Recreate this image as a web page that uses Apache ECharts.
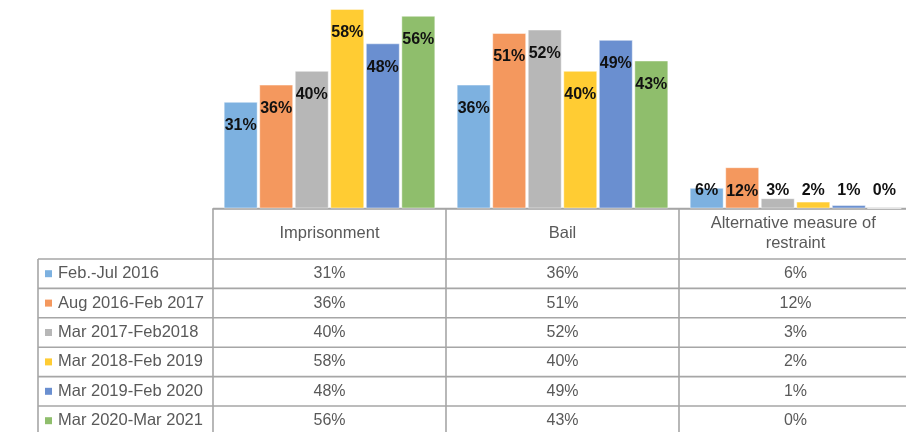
<!DOCTYPE html>
<html>
<head>
<meta charset="utf-8">
<script src="https://cdn.jsdelivr.net/npm/echarts@6/dist/echarts.min.js"></script>
<style>
  html, body { margin: 0; padding: 0; background: #fff; overflow: hidden; }
  /* the table's last column runs a little past the right edge of the window */
  #chart { width: 912px; height: 432px; }
</style>
</head>
<body>
<div id="chart"></div>
<script>
// Outcome categories (columns of the data table)
const categories = ['Imprisonment', 'Bail', 'Alternative measure of restraint'];
// Reporting periods (rows of the data table / series)
const periods = ['Feb.-Jul 2016', 'Aug 2016-Feb 2017', 'Mar 2017-Feb2018', 'Mar 2018-Feb 2019', 'Mar 2019-Feb 2020', 'Mar 2020-Mar 2021'];
// Percent shares per period, in category order
const febJul2016 = [31, 36, 6];
const aug2016Feb2017 = [36, 51, 12];
const mar2017Feb2018 = [40, 52, 3];
const mar2018Feb2019 = [58, 40, 2];
const mar2019Feb2020 = [48, 49, 1];
const mar2020Mar2021 = [56, 43, 0];
const seriesValues = [febJul2016, aug2016Feb2017, mar2017Feb2018, mar2018Feb2019, mar2019Feb2020, mar2020Mar2021];
const colors = ['#7DB1E0', '#F4985E', '#B7B7B7', '#FFCC33', '#6A8FD0', '#8FBE6C'];

const FONT = 'Liberation Sans, Arial, sans-serif';
const TEXT_COLOR = '#595959';
const LINE_COLOR = '#a6a6a6';

const chart = echarts.init(document.getElementById('chart'), null, { renderer: 'canvas' });

function barData(values) {
  // Small bars carry their label just above the baseline, tall bars inside the top
  return values.map(v => ({
    value: v,
    label: v >= 10
      ? { position: 'insideTop', distance: 16 }
      : { position: 'insideBottom', distance: 10 }
  }));
}

chart.setOption({
  animation: false,
  grid: { left: 213, top: 2, right: 0, height: 206.5, containLabel: false },
  xAxis: {
    type: 'category',
    data: categories,
    axisLine: { show: true, lineStyle: { color: LINE_COLOR, width: 1.6 } },
    axisTick: { show: false },
    axisLabel: { show: false },
    splitLine: { show: false }
  },
  yAxis: {
    type: 'value',
    min: 0,
    max: 60,
    show: false,
    splitLine: { show: false }
  },
  series: periods.map((name, i) => ({
    name,
    type: 'bar',
    data: barData(seriesValues[i]),
    barWidth: 34,
    barGap: '4.5%',
    itemStyle: { color: colors[i], borderColor: 'rgba(255,255,255,0.45)', borderWidth: 1 },
    label: {
      show: true,
      formatter: '{c}%',
      color: '#111',
      fontFamily: FONT,
      fontWeight: 'bold',
      fontSize: 16
    }
  }))
});

// Data table below the plot, laid out from the category axis positions
function buildTable() {
  const base = chart.convertToPixel({ yAxisIndex: 0 }, 0);
  const centers = categories.map((c, i) => chart.convertToPixel({ xAxisIndex: 0 }, i));
  const band = centers[1] - centers[0];
  const colEdges = [centers[0] - band / 2].concat(centers.map(c => c + band / 2));
  const headerBottom = base + 50.5;
  const rowH = 29.4;
  const legendLeft = 38;
  const right = colEdges[colEdges.length - 1];
  const bottom = headerBottom + rowH * periods.length;
  const els = [];

  const hline = (x1, x2, y) => els.push({
    type: 'line', silent: true,
    shape: { x1, y1: y, x2, y2: y },
    style: { stroke: LINE_COLOR, lineWidth: 1.6 }
  });
  const vline = (x, y1, y2) => els.push({
    type: 'line', silent: true,
    shape: { x1: x, y1, x2: x, y2 },
    style: { stroke: LINE_COLOR, lineWidth: 1.6 }
  });

  hline(colEdges[0], right, base);
  for (let k = 0; k <= periods.length; k++) hline(legendLeft, right, headerBottom + k * rowH);
  vline(legendLeft, headerBottom, bottom);
  colEdges.forEach(x => vline(x, base, bottom));

  // Column headers
  categories.forEach((c, i) => {
    els.push({
      type: 'text', silent: true,
      style: {
        x: centers[i], y: (base + headerBottom) / 2,
        text: c, width: 200, overflow: 'break', lineHeight: 20,
        align: 'center', verticalAlign: 'middle',
        fill: TEXT_COLOR, font: '16.5px ' + FONT
      }
    });
  });

  // Rows: legend key + values
  periods.forEach((p, r) => {
    const cy = headerBottom + rowH * (r + 0.5);
    els.push({
      type: 'rect', silent: true,
      shape: { x: 45, y: cy - 3.5, width: 7, height: 7 },
      style: { fill: colors[r] }
    });
    els.push({
      type: 'text', silent: true,
      style: {
        x: 58, y: cy, text: p, align: 'left', verticalAlign: 'middle',
        fill: TEXT_COLOR, font: '16.5px ' + FONT
      }
    });
    seriesValues[r].forEach((v, i) => {
      els.push({
        type: 'text', silent: true,
        style: {
          x: centers[i], y: cy, text: v + '%', align: 'center', verticalAlign: 'middle',
          fill: TEXT_COLOR, font: '16px ' + FONT
        }
      });
    });
  });

  chart.setOption({ graphic: { elements: els } });
}

buildTable();
</script>
</body>
</html>
